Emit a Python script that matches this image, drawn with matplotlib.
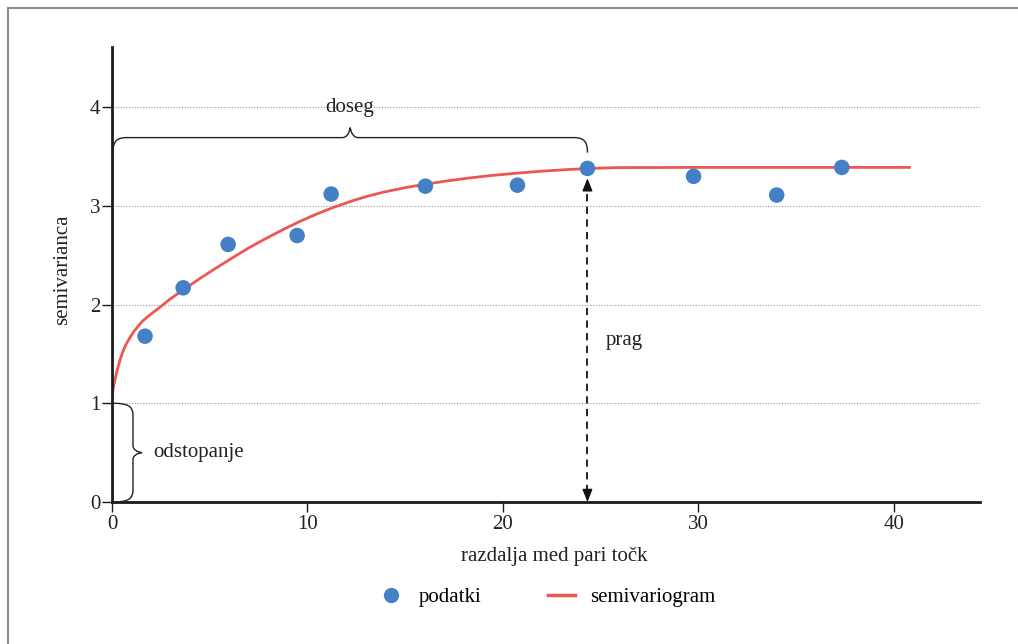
import numpy as np
import matplotlib
matplotlib.use("Agg")
import matplotlib.pyplot as plt
from matplotlib.path import Path
from matplotlib.patches import PathPatch
from matplotlib.lines import Line2D

# ---- data ----
data_x = [1.69, 3.64, 5.94, 9.47, 11.21, 16.03, 20.74, 24.32, 29.75, 34.0, 37.33]
data_y = [1.68, 2.17, 2.61, 2.70, 3.12, 3.20, 3.21, 3.38, 3.30, 3.11, 3.39]

curve_x = [0.0, 0.1, 0.2, 0.3, 0.41, 0.55, 0.7, 0.9, 1.09, 1.35, 1.6, 2.0, 2.46, 3.0, 3.65,
           4.5, 5.36, 6.21, 7.0, 7.92, 8.8, 9.63, 10.5, 11.33, 12.35, 13.1, 13.9, 15.0,
           16.03, 17.1, 18.16, 19.4, 20.72, 22.0, 23.28, 24.5, 25.8, 30.0, 35.0, 40.86]
curve_y = [1.08, 1.19, 1.28, 1.36, 1.44, 1.52, 1.59, 1.66, 1.72, 1.785, 1.84, 1.905, 1.975, 2.06, 2.15,
           2.265, 2.375, 2.48, 2.575, 2.675, 2.765, 2.845, 2.92, 2.985, 3.055, 3.10, 3.14, 3.185,
           3.22, 3.252, 3.28, 3.308, 3.332, 3.352, 3.368, 3.38, 3.388, 3.39, 3.39, 3.39]

xticks = [0, 10, 20, 30, 40]
yticks = [0, 1, 2, 3, 4]
nugget = 1.0
range_x = 24.32
sill_y = 3.36

BLUE = "#4480c5"
RED = "#ec5752"
FONT = ["Liberation Serif", "DejaVu Serif"]
plt.rcParams["font.family"] = FONT
FS = 15
TXT = "#222222"

W, H = 1018, 644
fig = plt.figure(figsize=(W / 100, H / 100), dpi=100)
ax = fig.add_axes([112 / W, 1 - 502 / H, (980 - 112) / W, (502 - 47) / H])

ax.set_xlim(0, 44.4)
ax.set_ylim(0, 4.61)

for y in yticks[1:]:
    ax.axhline(y, color="#9a9a9a", lw=0.8, ls=(0, (1, 1.5)), zorder=0)

ax.plot(curve_x, curve_y, color=RED, lw=2.0, zorder=2, solid_capstyle="butt")
ax.scatter(data_x, data_y, s=125, color=BLUE, zorder=3, edgecolors="none")

for s in ["top", "right"]:
    ax.spines[s].set_visible(False)
for s in ["left", "bottom"]:
    ax.spines[s].set_linewidth(2.0)
    ax.spines[s].set_color("#1a1a1a")

ax.set_xticks(xticks)
ax.set_yticks(yticks)
ax.tick_params(axis="both", direction="out", length=7, width=1.0, color="#1a1a1a",
               labelsize=FS, labelcolor=TXT)
ax.tick_params(axis="y", pad=1.5)
ax.tick_params(axis="x", pad=2.5)

ax.set_xlabel("razdalja med pari točk", fontsize=FS, color=TXT)
ax.xaxis.set_label_coords((554 - 112) / (980 - 112), -(557 - 502) / (502 - 47), transform=ax.transAxes)
ax.xaxis.label.set_va("center")
ax.set_ylabel("semivarianca", fontsize=FS, color=TXT)
ax.yaxis.set_label_coords(-(112 - 63) / (980 - 112), (502 - 270) / (502 - 47), transform=ax.transAxes)
ax.yaxis.label.set_va("center")

# dashed double arrow (sill)
y_top = sill_y - 0.08
ax.plot([range_x, range_x], [0.1, y_top - 0.08], color="#111111", lw=1.3, ls=(0, (4, 3)), zorder=4)
for y_from, y_to in [(y_top - 0.12, y_top), (0.12, 0.0)]:
    ax.annotate("", xy=(range_x, y_to), xytext=(range_x, y_from),
                arrowprops=dict(arrowstyle="-|>,head_length=0.55,head_width=0.22", color="#111111",
                                lw=1.0, mutation_scale=14, shrinkA=0, shrinkB=0), zorder=4)
ax.text(range_x + 0.95, 1.64, "prag", fontsize=FS, color=TXT, va="center", ha="left")


def draw_brace(p0, p1, normal_sign, depth, tip, r, w):
    p0 = np.array(p0, float)
    p1 = np.array(p1, float)
    L = np.linalg.norm(p1 - p0)
    u = (p1 - p0) / L
    n = np.array([-u[1], u[0]]) * normal_sign
    loc = [
        (0, 0),
        (0, 0.75 * depth), (0.25 * r, depth), (r, depth),
        (L / 2 - w, depth),
        (L / 2 - 0.4 * w, depth), (L / 2 - 0.1 * w, depth + 0.5 * (tip - depth)), (L / 2, tip),
        (L / 2 + 0.1 * w, depth + 0.5 * (tip - depth)), (L / 2 + 0.4 * w, depth), (L / 2 + w, depth),
        (L - r, depth),
        (L - 0.25 * r, depth), (L, 0.75 * depth), (L, 0),
    ]
    codes = [Path.MOVETO,
             Path.CURVE4, Path.CURVE4, Path.CURVE4,
             Path.LINETO,
             Path.CURVE4, Path.CURVE4, Path.CURVE4,
             Path.CURVE4, Path.CURVE4, Path.CURVE4,
             Path.LINETO,
             Path.CURVE4, Path.CURVE4, Path.CURVE4]
    pts = [p0 + s * u + t * n for s, t in loc]
    patch = PathPatch(Path(pts, codes), facecolor="none", edgecolor="#222222", lw=1.0,
                      transform=None, clip_on=False, zorder=5)
    fig.add_artist(patch)


fig.canvas.draw()
T = ax.transData
# top brace (range)
a = T.transform((0.05, 3.54))
b = T.transform((range_x, 3.54))
draw_brace(a, b, 1, 15, 25, 14, 8)
ax.text(range_x / 2, 4.0, "doseg", fontsize=FS, color=TXT, ha="center", va="center")
# left brace (nugget)
a = T.transform((0.05, nugget))
b = T.transform((0.05, 0.0))
draw_brace(a, b, 1, 20, 29, 12, 7)
ax.text(2.1, 0.5, "odstopanje", fontsize=FS, color=TXT, ha="left", va="center")

# legend
handles = [Line2D([], [], ls="none", marker="o", markersize=11, color=BLUE, markeredgewidth=0),
           Line2D([], [], color=RED, lw=2.5)]
fig.legend(handles, ["podatki", "semivariogram"], loc="center", ncol=2,
           bbox_to_anchor=(546 / W, 1 - 597 / H), frameon=False, fontsize=FS,
           handlelength=1.3, columnspacing=3.2, handletextpad=0.7)

# page frame (left and top edges)
fig.add_artist(Line2D([7.5 / W, 7.5 / W], [0, 1 - 7.5 / H], transform=fig.transFigure,
                      color="#8c8c8c", lw=1.5))
fig.add_artist(Line2D([7.5 / W, 1], [1 - 7.5 / H, 1 - 7.5 / H], transform=fig.transFigure,
                      color="#8c8c8c", lw=1.5))

fig.savefig("out.png", dpi=100)
